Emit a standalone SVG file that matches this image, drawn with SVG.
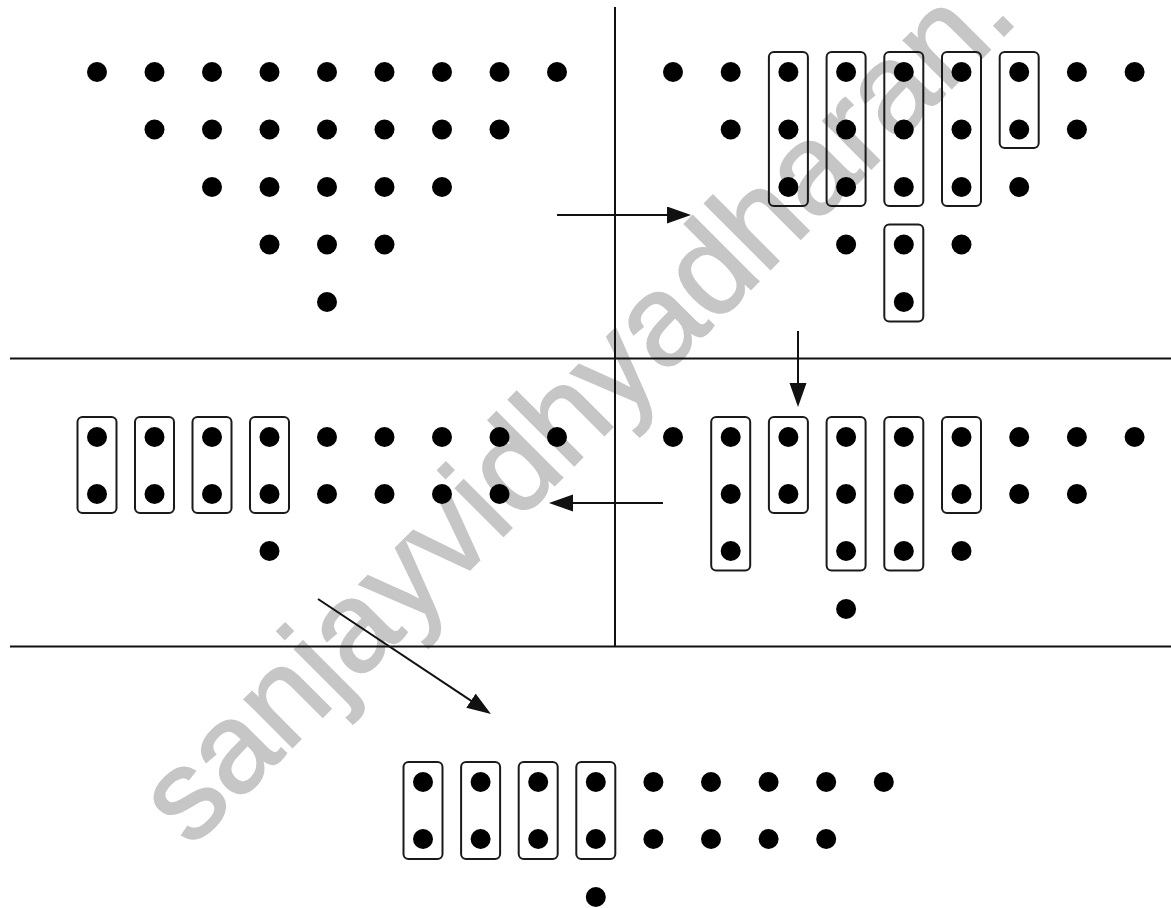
<svg xmlns="http://www.w3.org/2000/svg" width="1171" height="908" viewBox="0 0 1171 908">
<style>
.dot{fill:#000}
.box{fill:none;stroke:#1a1a1a;stroke-width:2}
.div{stroke:#111;stroke-width:2;fill:none}
.arr{stroke:#111;stroke-width:2;fill:none;marker-end:url(#ah)}
.wm{fill:#c6c6c6;stroke:#c6c6c6;stroke-width:2;font-family:"Liberation Sans",Arial,sans-serif;font-size:128px}
</style>
<defs>
<marker id="ah" markerUnits="userSpaceOnUse" markerWidth="26" markerHeight="18" refX="4" refY="8.5" orient="auto">
<path d="M0,0 L24,8.5 L0,17 Z" fill="#111"/>
</marker>
</defs>
<rect width="1171" height="908" fill="#fff"/>
<text class="wm" x="0" y="0" transform="translate(190.7,848.9) rotate(-45)">sanjayvidhyadharan.</text>
<g id="dividers">
<line class="div" x1="615" y1="7" x2="615" y2="646"/>
<line class="div" x1="10" y1="358.5" x2="1171" y2="358.5"/>
<line class="div" x1="10" y1="646.5" x2="1171" y2="646.5"/>
</g>
<g id="stage1">
<circle class="dot" cx="97" cy="72" r="10"/><circle class="dot" cx="154.5" cy="72" r="10"/><circle class="dot" cx="212" cy="72" r="10"/><circle class="dot" cx="269.5" cy="72" r="10"/><circle class="dot" cx="327" cy="72" r="10"/><circle class="dot" cx="384.5" cy="72" r="10"/><circle class="dot" cx="442" cy="72" r="10"/><circle class="dot" cx="499.5" cy="72" r="10"/><circle class="dot" cx="557" cy="72" r="10"/>
<circle class="dot" cx="154.5" cy="129.5" r="10"/><circle class="dot" cx="212" cy="129.5" r="10"/><circle class="dot" cx="269.5" cy="129.5" r="10"/><circle class="dot" cx="327" cy="129.5" r="10"/><circle class="dot" cx="384.5" cy="129.5" r="10"/><circle class="dot" cx="442" cy="129.5" r="10"/><circle class="dot" cx="499.5" cy="129.5" r="10"/>
<circle class="dot" cx="212" cy="187" r="10"/><circle class="dot" cx="269.5" cy="187" r="10"/><circle class="dot" cx="327" cy="187" r="10"/><circle class="dot" cx="384.5" cy="187" r="10"/><circle class="dot" cx="442" cy="187" r="10"/>
<circle class="dot" cx="269.5" cy="244.5" r="10"/><circle class="dot" cx="327" cy="244.5" r="10"/><circle class="dot" cx="384.5" cy="244.5" r="10"/>
<circle class="dot" cx="327" cy="302" r="10"/>
</g>
<g id="stage2">
<circle class="dot" cx="673" cy="72" r="10"/><circle class="dot" cx="730.7" cy="72" r="10"/><circle class="dot" cx="788.4" cy="72" r="10"/><circle class="dot" cx="846.1" cy="72" r="10"/><circle class="dot" cx="903.8" cy="72" r="10"/><circle class="dot" cx="961.5" cy="72" r="10"/><circle class="dot" cx="1019.2" cy="72" r="10"/><circle class="dot" cx="1076.9" cy="72" r="10"/><circle class="dot" cx="1134.6" cy="72" r="10"/>
<circle class="dot" cx="730.7" cy="129.5" r="10"/><circle class="dot" cx="788.4" cy="129.5" r="10"/><circle class="dot" cx="846.1" cy="129.5" r="10"/><circle class="dot" cx="903.8" cy="129.5" r="10"/><circle class="dot" cx="961.5" cy="129.5" r="10"/><circle class="dot" cx="1019.2" cy="129.5" r="10"/><circle class="dot" cx="1076.9" cy="129.5" r="10"/>
<circle class="dot" cx="788.4" cy="187" r="10"/><circle class="dot" cx="846.1" cy="187" r="10"/><circle class="dot" cx="903.8" cy="187" r="10"/><circle class="dot" cx="961.5" cy="187" r="10"/><circle class="dot" cx="1019.2" cy="187" r="10"/>
<circle class="dot" cx="846.1" cy="244.5" r="10"/><circle class="dot" cx="903.8" cy="244.5" r="10"/><circle class="dot" cx="961.5" cy="244.5" r="10"/>
<circle class="dot" cx="903.8" cy="302" r="10"/>
<rect class="box" x="768.9" y="52" width="39" height="154" rx="5"/>
<rect class="box" x="826.6" y="52" width="39" height="154" rx="5"/>
<rect class="box" x="884.3" y="52" width="39" height="154" rx="5"/>
<rect class="box" x="942" y="52" width="39" height="154" rx="5"/>
<rect class="box" x="999.7" y="52" width="39" height="96" rx="5"/>
<rect class="box" x="884.3" y="224.5" width="39" height="97" rx="5"/>
</g>
<g id="stage3">
<circle class="dot" cx="673" cy="437" r="10"/><circle class="dot" cx="730.7" cy="437" r="10"/><circle class="dot" cx="788.4" cy="437" r="10"/><circle class="dot" cx="846.1" cy="437" r="10"/><circle class="dot" cx="903.8" cy="437" r="10"/><circle class="dot" cx="961.5" cy="437" r="10"/><circle class="dot" cx="1019.2" cy="437" r="10"/><circle class="dot" cx="1076.9" cy="437" r="10"/><circle class="dot" cx="1134.6" cy="437" r="10"/>
<circle class="dot" cx="730.7" cy="494" r="10"/><circle class="dot" cx="788.4" cy="494" r="10"/><circle class="dot" cx="846.1" cy="494" r="10"/><circle class="dot" cx="903.8" cy="494" r="10"/><circle class="dot" cx="961.5" cy="494" r="10"/><circle class="dot" cx="1019.2" cy="494" r="10"/><circle class="dot" cx="1076.9" cy="494" r="10"/>
<circle class="dot" cx="730.7" cy="551" r="10"/><circle class="dot" cx="846.1" cy="551" r="10"/><circle class="dot" cx="903.8" cy="551" r="10"/><circle class="dot" cx="961.5" cy="551" r="10"/>
<circle class="dot" cx="846.1" cy="609" r="10"/>
<rect class="box" x="711.2" y="417" width="39" height="153.5" rx="5"/>
<rect class="box" x="768.9" y="417" width="39" height="96" rx="5"/>
<rect class="box" x="826.6" y="417" width="39" height="153.5" rx="5"/>
<rect class="box" x="884.3" y="417" width="39" height="153.5" rx="5"/>
<rect class="box" x="942" y="417" width="39" height="96" rx="5"/>
</g>
<g id="stage4">
<circle class="dot" cx="97" cy="437" r="10"/><circle class="dot" cx="154.5" cy="437" r="10"/><circle class="dot" cx="212" cy="437" r="10"/><circle class="dot" cx="269.5" cy="437" r="10"/><circle class="dot" cx="327" cy="437" r="10"/><circle class="dot" cx="384.5" cy="437" r="10"/><circle class="dot" cx="442" cy="437" r="10"/><circle class="dot" cx="499.5" cy="437" r="10"/><circle class="dot" cx="557" cy="437" r="10"/>
<circle class="dot" cx="97" cy="494" r="10"/><circle class="dot" cx="154.5" cy="494" r="10"/><circle class="dot" cx="212" cy="494" r="10"/><circle class="dot" cx="269.5" cy="494" r="10"/><circle class="dot" cx="327" cy="494" r="10"/><circle class="dot" cx="384.5" cy="494" r="10"/><circle class="dot" cx="442" cy="494" r="10"/><circle class="dot" cx="499.5" cy="494" r="10"/>
<circle class="dot" cx="269.5" cy="551" r="10"/>
<rect class="box" x="77.5" y="417" width="39" height="96" rx="5"/>
<rect class="box" x="135" y="417" width="39" height="96" rx="5"/>
<rect class="box" x="192.5" y="417" width="39" height="96" rx="5"/>
<rect class="box" x="250" y="417" width="39" height="96" rx="5"/>
</g>
<g id="stage5">
<circle class="dot" cx="423" cy="782" r="10"/><circle class="dot" cx="480.6" cy="782" r="10"/><circle class="dot" cx="538.2" cy="782" r="10"/><circle class="dot" cx="595.8" cy="782" r="10"/><circle class="dot" cx="653.4" cy="782" r="10"/><circle class="dot" cx="711" cy="782" r="10"/><circle class="dot" cx="768.6" cy="782" r="10"/><circle class="dot" cx="826.2" cy="782" r="10"/><circle class="dot" cx="883.8" cy="782" r="10"/>
<circle class="dot" cx="423" cy="839" r="10"/><circle class="dot" cx="480.6" cy="839" r="10"/><circle class="dot" cx="538.2" cy="839" r="10"/><circle class="dot" cx="595.8" cy="839" r="10"/><circle class="dot" cx="653.4" cy="839" r="10"/><circle class="dot" cx="711" cy="839" r="10"/><circle class="dot" cx="768.6" cy="839" r="10"/><circle class="dot" cx="826.2" cy="839" r="10"/>
<circle class="dot" cx="595.8" cy="897" r="10"/>
<rect class="box" x="403.5" y="762" width="39" height="97" rx="5"/>
<rect class="box" x="461.1" y="762" width="39" height="97" rx="5"/>
<rect class="box" x="518.7" y="762" width="39" height="97" rx="5"/>
<rect class="box" x="576.3" y="762" width="39" height="97" rx="5"/>
</g>
<g id="connectors">
<line class="arr" x1="557" y1="215" x2="671" y2="215"/>
<line class="arr" x1="798" y1="331" x2="798" y2="387"/>
<line class="arr" x1="663" y1="503" x2="569" y2="503"/>
<line class="arr" x1="318" y1="599" x2="474.3" y2="702.9"/>
</g>
</svg>
